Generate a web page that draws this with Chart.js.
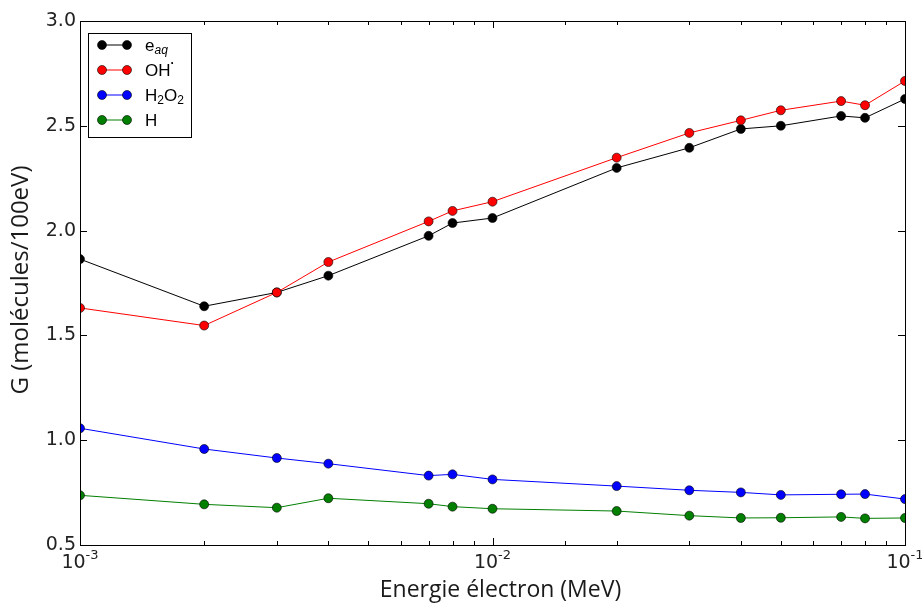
<!DOCTYPE html>
<html><head><meta charset="utf-8">
<script src="https://cdn.jsdelivr.net/npm/chart.js@4.4.1/dist/chart.umd.min.js"></script>
<style>html,body{margin:0;padding:0;background:#fff}#wrap{width:922px;height:603px;position:relative}</style>
</head><body><div id="wrap"><canvas id="c"></canvas></div>
<script>
// ---- data ----
const energies = [0.001,0.002,0.003,0.004,0.007,0.008,0.01,0.02,0.03,0.04,0.05,0.07,0.08,0.1];
const eaq  = [1.864,1.639,1.705,1.785,1.975,2.036,2.060,2.299,2.395,2.485,2.500,2.547,2.538,2.628];
const oh   = [1.631,1.547,1.705,1.850,2.044,2.094,2.138,2.348,2.466,2.526,2.574,2.618,2.598,2.714];
const h2o2 = [1.057,0.958,0.915,0.888,0.831,0.837,0.813,0.781,0.761,0.751,0.739,0.742,0.743,0.719];
const hAtom= [0.737,0.694,0.678,0.723,0.697,0.683,0.673,0.662,0.640,0.629,0.630,0.634,0.627,0.629];
const seriesLabels = ['e_{aq}','OH^{·}','H_{2}O_{2}','H'];
const seriesColors = ['#000000','#ff0000','#0000ff','#007f00'];
const yTicks = [0.5,1.0,1.5,2.0,2.5,3.0];
const xMajorTicks = [0.001,0.01,0.1];
const xTickBase = ['10','10','10'];
const xTickExp = ['-3','-2','-1'];
const xTitle = 'Energie électron (MeV)';
const yTitle = 'G (molécules/100eV)';

const seriesValues = [eaq, oh, h2o2, hAtom];
const majorIndex = v => xMajorTicks.findIndex(m => Math.abs(v - m) / m < 1e-6);

function parseRich(s){
  const out=[]; const re=/([_^])\{([^}]*)\}|([^_^]+)/g; let m;
  while((m=re.exec(s))){ if(m[3]) out.push({t:m[3],mode:'n'}); else out.push({t:m[2],mode:m[1]==='_'?'sub':'sup'}); }
  return out;
}
function drawRich(ctx, s, x, y){
  for(const seg of parseRich(s)){
    let font='17px "Liberation Sans"', dy=0;
    if(seg.mode==='sub'){ font=(/[a-z]/.test(seg.t)?'italic ':'')+'12px "Liberation Sans"'; dy=5; }
    if(seg.mode==='sup'){ font='bold 12px "Liberation Sans"'; dy=-7; }
    ctx.font=font; ctx.fillText(seg.t, x, y+dy); x+=ctx.measureText(seg.t).width;
  }
}

const framePlugin = {
  id:'frame',
  afterDraw(chart){
    const {ctx, chartArea:a, scales} = chart;
    ctx.save();
    ctx.strokeStyle='#000'; ctx.lineWidth=1;
    ctx.beginPath();
    for(const t of scales.x.ticks){
      const px=Math.round(scales.x.getPixelForValue(t.value))+0.5;
      const len=majorIndex(t.value)>=0?7:4;
      ctx.moveTo(px,a.bottom); ctx.lineTo(px,a.bottom-len);
      ctx.moveTo(px,a.top); ctx.lineTo(px,a.top+len);
    }
    for(const t of scales.y.ticks){
      const py=Math.round(scales.y.getPixelForValue(t.value))+0.5;
      ctx.moveTo(a.left,py); ctx.lineTo(a.left+7,py);
      ctx.moveTo(a.right,py); ctx.lineTo(a.right-7,py);
    }
    ctx.stroke();
    ctx.strokeRect(Math.round(a.left)+0.5, Math.round(a.top)+0.5, Math.round(a.right-a.left), Math.round(a.bottom-a.top));
    // x tick labels (10 with superscript exponent)
    ctx.fillStyle='#222'; ctx.textBaseline='alphabetic'; ctx.textAlign='left';
    for(const t of scales.x.ticks){
      const k=majorIndex(t.value); if(k<0) continue;
      const px=scales.x.getPixelForValue(t.value);
      ctx.font='19px "DejaVu Sans"'; const wb=ctx.measureText(xTickBase[k]).width;
      ctx.font='13px "DejaVu Sans"'; const we=ctx.measureText(xTickExp[k]).width;
      const x0=px-(wb+we)/2;
      ctx.font='19px "DejaVu Sans"'; ctx.fillText(xTickBase[k], x0, a.bottom+23);
      ctx.font='13px "DejaVu Sans"'; ctx.fillText(xTickExp[k], x0+wb, a.bottom+14);
    }
    // axis titles
    ctx.fillStyle='#1a1a1a'; ctx.textAlign='center'; ctx.textBaseline='alphabetic';
    ctx.font='23px "Open Sans"';
    ctx.fillText(xTitle, (a.left+a.right)/2+8, 597);
    ctx.font='24px "Open Sans"';
    ctx.translate(28, (a.top+a.bottom)/2-3); ctx.rotate(-Math.PI/2);
    ctx.fillText(yTitle, 0, 0);
    ctx.restore();
    // legend
    ctx.save();
    const bx=a.left+8, by=a.top+12, bw=103, bh=104;
    ctx.fillStyle='#fff'; ctx.fillRect(bx,by,bw,bh);
    ctx.strokeStyle='#000'; ctx.lineWidth=1; ctx.strokeRect(bx+0.5,by+0.5,bw,bh);
    chart.data.datasets.forEach((ds,i)=>{
      const yy=by+12+i*25;
      ctx.strokeStyle=ds.borderColor; ctx.lineWidth=1;
      ctx.beginPath(); ctx.moveTo(bx+14,yy); ctx.lineTo(bx+39,yy); ctx.stroke();
      for(const xx of [bx+14,bx+39]){
        ctx.beginPath(); ctx.arc(xx,yy,4.5,0,Math.PI*2); ctx.fillStyle=ds.backgroundColor; ctx.fill();
        ctx.strokeStyle='#000'; ctx.lineWidth=0.6; ctx.stroke();
      }
      ctx.fillStyle='#000'; ctx.textAlign='left'; ctx.textBaseline='middle';
      drawRich(ctx, ds.label, bx+57, yy+1);
    });
    ctx.restore();
  }
};

const datasets = seriesValues.map((vals,i)=>({
  label: seriesLabels[i],
  data: energies.map((e,k)=>({x:e, y:vals[k]})),
  borderColor: seriesColors[i],
  backgroundColor: seriesColors[i],
  borderWidth: 1,
  pointRadius: 4.5,
  pointBorderWidth: 0.6,
  pointBorderColor: '#000',
  pointBackgroundColor: seriesColors[i],
  tension: 0,
  clip: 0,
  order: 4 - i
}));

new Chart(document.getElementById('c'), {
  type:'line',
  data:{datasets},
  plugins:[framePlugin],
  options:{
    responsive:true, maintainAspectRatio:false, animation:false,
    layout:{padding:{left:0,top:21,right:17,bottom:0}},
    plugins:{legend:{display:false}, tooltip:{enabled:false}},
    scales:{
      x:{
        type:'logarithmic', min:0.001, max:0.1,
        grid:{display:false, drawTicks:false}, border:{display:false},
        ticks:{ display:false, autoSkip:false, maxRotation:0 },
        afterFit(s){ s.height=58; s.paddingLeft=0; s.paddingRight=0; }
      },
      y:{
        type:'linear', min:0.5, max:3.0,
        grid:{display:false, drawTicks:false}, border:{display:false},
        afterBuildTicks(s){ s.ticks = yTicks.map(v=>({value:v})); },
        ticks:{
          padding:4, color:'#222',
          font:{family:'DejaVu Sans', size:19},
          callback:(v)=>Number(v).toFixed(1)
        },
        afterFit(s){ s.width=80; s.paddingTop=0; s.paddingBottom=0; }
      }
    }
  }
});
</script></body></html>
